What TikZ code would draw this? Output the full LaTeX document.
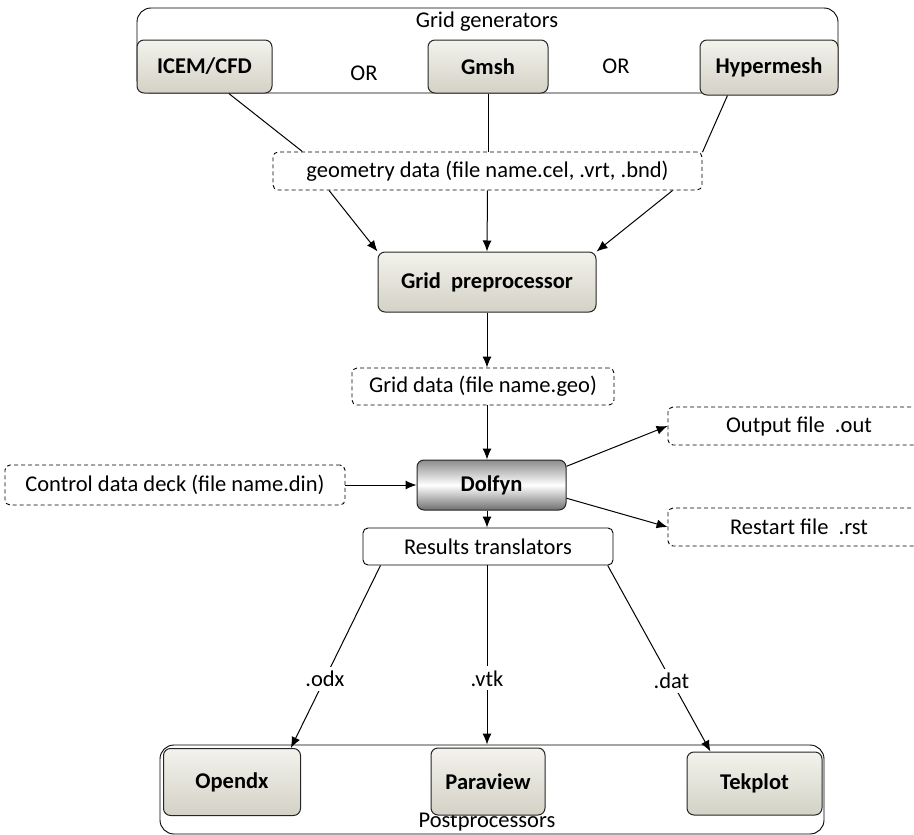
\documentclass[tikz,border=0pt]{standalone}
\usepackage{fontspec}
\setmainfont{Carlito}
\usetikzlibrary{positioning,arrows.meta}
\definecolor{ToolTop}{HTML}{F3F2EC}
\definecolor{ToolBottom}{HTML}{D4D2C6}
\definecolor{SolverGray}{HTML}{8C8C8C}

\tikzset{
  every node/.style={font=\fontsize{22.5}{27}\selectfont, inner sep=0pt},
  groupbox/.style={rounded corners=14pt, draw=black, line width=0.9pt},
  toolbox/.style={rounded corners=7pt, draw=black!85, line width=1pt,
    top color=ToolTop, bottom color=ToolBottom, font=\bfseries\fontsize{22.5}{27}\selectfont},
  solverbox/.style={rounded corners=7pt, draw=black!85, line width=1pt,
    top color=SolverGray, bottom color=SolverGray!80!black, middle color=white,
    font=\bfseries\fontsize{22.5}{27}\selectfont},
  databox/.style={rounded corners=5pt, draw=black, line width=0.9pt, dash pattern=on 4pt off 3pt},
  plainbox/.style={rounded corners=5pt, draw=black, line width=0.9pt},
  link/.style={draw=black, line width=1pt},
  flow/.style={link, -{Latex[length=11pt,width=9pt]}},
  extlabel/.style={fill=white, inner sep=4pt}
}

\begin{document}
\begin{tikzpicture}[x=1pt, y=-1pt]
  \clip (0,0) rectangle (914,835);

  % grid generators
  \node[groupbox, minimum width=701pt, minimum height=85pt] (gengroup) at (487.5,50.5) {};
  \node (genlabel) at (487,22) {Grid generators};
  \node[toolbox, minimum width=135pt, minimum height=53pt] (icem) at (204.5,66.5) {ICEM/CFD};
  \node[toolbox, minimum width=120pt, minimum height=53pt] (gmsh) at (488,66.5) {Gmsh};
  \node[toolbox, minimum width=138pt, minimum height=55pt] (hyper) at (769,67.5) {Hypermesh};
  \node (or1) at (364,73) {OR};
  \node (or2) at (616,66) {OR};

  \node[databox, minimum width=429pt, minimum height=38pt] (geom) at (487.5,171)
    {geometry data (file name.cel, .vrt, .bnd)};
  \node[toolbox, minimum width=218pt, minimum height=60pt] (prep) at (487,282) {Grid\ \ preprocessor};
  \node[databox, minimum width=262pt, minimum height=37pt] (griddata) at (483,386.5)
    {Grid data (file name.geo)};

  % solver
  \node[solverbox, minimum width=149pt, minimum height=50pt] (dolfyn) at (491.5,485) {Dolfyn};
  \node[databox, minimum width=340pt, minimum height=40pt] (control) at (175,485)
    {Control data deck (file name.din)};
  \node[databox, minimum width=262pt, minimum height=38pt] (outfile) at (799,426) {Output file\ \ .out};
  \node[databox, minimum width=262pt, minimum height=38pt] (restart) at (799,527) {Restart file\ \ .rst};
  \node[plainbox, minimum width=250pt, minimum height=37pt] (results) at (488,546.5) {Results translators};

  % postprocessors
  \node[groupbox, minimum width=664pt, minimum height=89pt] (postgroup) at (492,789.5) {};
  \node (postlabel) at (487,822) {Postprocessors};
  \node[toolbox, minimum width=137pt, minimum height=67pt] (opendx) at (232,782) {Opendx};
  \node[toolbox, minimum width=114pt, minimum height=67pt] (paraview) at (488,781.5) {Paraview};
  \node[toolbox, minimum width=135pt, minimum height=63pt] (tekplot) at (754.5,783.5) {Tekplot};

  % connectors
  \draw[link] (icem.-48) -- (geom.174.5);
  \draw[link] (gmsh.south) -- (gmsh.south |- geom.north);
  \draw[link] (hyper.-146) -- (geom.5.6);
  \draw[flow] (geom.-173.6) -- (prep.north west);
  \draw[flow] (geom.south) -- (prep.north);
  \draw[flow] (geom.-6.5) -- (prep.north east);
  \draw[flow] (prep.south) -- (prep.south |- griddata.north);
  \draw[flow] (griddata.south -| prep.south) -- (dolfyn.north -| prep.south);
  \draw[flow] (control.east) -- (dolfyn.west);
  \draw[flow] (dolfyn.14) -- (outfile.west);
  \draw[flow] (dolfyn.-10) -- (restart.west);
  \draw[flow] (dolfyn.south -| prep.south) -- (results.north -| prep.south);
  \draw[flow] (results.-170.5) -- node[extlabel, pos=0.62] {.odx} (opendx.30.4);
  \draw[flow] (results.south -| prep.south) -- node[extlabel, pos=0.63] {.vtk} (postgroup.north -| prep.south);
  \draw[flow] (results.-9.6) -- node[extlabel, pos=0.62] {.dat} (tekplot.144.7);
\end{tikzpicture}
\end{document}
